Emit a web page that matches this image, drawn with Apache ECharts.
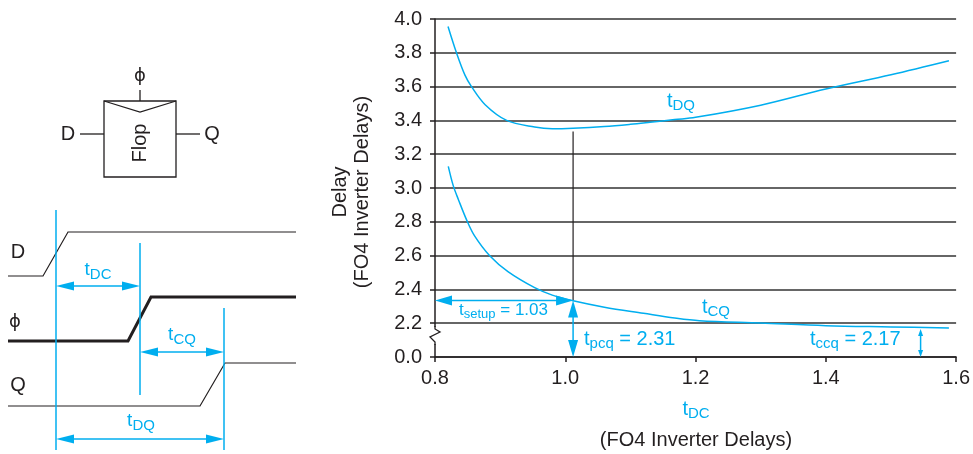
<!DOCTYPE html>
<html><head><meta charset="utf-8">
<script src="https://cdn.jsdelivr.net/npm/echarts@6/dist/echarts.min.js"></script>
<style>html,body{margin:0;padding:0;background:#fff}#c{width:973px;height:454px}</style>
</head><body><div id="c"></div>
<script>
// ---------- data ----------
const xMin = 0.8, xMax = 1.6, xStep = 0.2;
const yMin = 2.0, yMax = 4.0, yStep = 0.2;   // bottom of broken axis is labelled 0.0
const yBreakLabel = '0.0';
const dqX = [0.820, 0.833, 0.846, 0.856, 0.877, 0.910, 0.953, 0.980, 1.012, 1.060, 1.100, 1.130, 1.168, 1.200, 1.300, 1.400, 1.500, 1.589];
const dqY = [3.956, 3.800, 3.668, 3.600, 3.493, 3.400, 3.361, 3.351, 3.354, 3.364, 3.377, 3.389, 3.405, 3.418, 3.490, 3.586, 3.670, 3.753];
const cqX = [0.8204, 0.828, 0.836, 0.849, 0.861, 0.884, 0.912, 0.953, 0.980, 1.012, 1.060, 1.120, 1.168, 1.206, 1.300, 1.400, 1.500, 1.589];
const cqY = [3.128, 3.014, 2.931, 2.807, 2.715, 2.599, 2.505, 2.410, 2.366, 2.333, 2.295, 2.259, 2.231, 2.215, 2.201, 2.185, 2.178, 2.172];
const setupX = 1.012, setupY = 2.334, dqLineTop = 3.335;
const ccqX = 1.5455, ccqY = 2.165;
const tSetupText = '1.03', tPcqText = '2.31', tCcqText = '2.17';
const arrowSegs = [
  [xMin, setupY, setupX, setupY],
  [setupX, setupY, setupX, yMin],
  [ccqX, ccqY, ccqX, yMin]
];

// ---------- style ----------
const BLUE = '#00AEEF', INK = '#231F20';
const FONT = '"Liberation Sans", Arial, Helvetica, sans-serif';
const PHI_FONT = '"DejaVu Sans", "Liberation Sans", sans-serif';
const arrowHeads = [[17, 10], [17, 10], [7, 5]];

function subText(main, sub, rest, ms, ss, color, pad) {
  return {
    text: '{m|' + main + '}{s|' + sub + '}' + (rest ? '{m|' + rest + '}' : ''),
    rich: {
      m: { fontSize: ms, fontFamily: FONT, fill: color, color: color },
      s: { fontSize: ss, fontFamily: FONT, fill: color, color: color, padding: [pad, 0, 0, 0] }
    }
  };
}
function txt(x, y, t, size, color, extra, fam) {
  return Object.assign({ type: 'text', x: x, y: y, z: 10,
    style: { text: t, font: size + 'px ' + (fam || FONT), fill: color, textAlign: 'center', textVerticalAlign: 'middle', verticalAlign: 'middle' } }, extra || {});
}
function rtxt(x, y, cfg, align) {
  return { type: 'text', x: x, y: y, z: 10,
    style: Object.assign({ textAlign: align || 'center', textVerticalAlign: 'middle', verticalAlign: 'middle' }, cfg) };
}
function ln(x1, y1, x2, y2, c, w) {
  return { type: 'line', z: 5, shape: { x1: x1, y1: y1, x2: x2, y2: y2 }, style: { stroke: c, lineWidth: w } };
}
function pl(points, c, w) {
  return { type: 'polyline', z: 5, shape: { points: points }, style: { stroke: c, lineWidth: w, fill: null } };
}
function head(tx, ty, dir, len, wid, c) {
  let pts;
  if (dir === 'l') pts = [[tx, ty], [tx + len, ty - wid / 2], [tx + len, ty + wid / 2]];
  if (dir === 'r') pts = [[tx, ty], [tx - len, ty - wid / 2], [tx - len, ty + wid / 2]];
  return { type: 'polygon', z: 6, shape: { points: pts }, style: { fill: c } };
}
function hArrow(x1, x2, y, c) {
  return [ln(x1 + 10, y, x2 - 10, y, c, 1.5), head(x1, y, 'l', 18, 9, c), head(x2, y, 'r', 18, 9, c)];
}

// ---------- left schematic (decoration) ----------
const deco = [];
deco.push({ type: 'rect', z: 5, shape: { x: 104, y: 101, width: 72, height: 76 }, style: { stroke: INK, fill: '#fff', lineWidth: 1.3 } });
deco.push(pl([[104, 101], [140, 112], [176, 101]], INK, 1.3));
deco.push(ln(140, 90, 140, 101, INK, 1.3));
deco.push(ln(80, 134, 104, 134, INK, 1.3));
deco.push(ln(176, 134, 200, 134, INK, 1.3));
deco.push(txt(140, 76, 'ϕ', 18, INK, null, PHI_FONT));
deco.push(txt(68, 134, 'D', 20, INK));
deco.push(txt(212, 134, 'Q', 20, INK));
deco.push(txt(0, 0, 'Flop', 20, INK, { x: 140, y: 143, rotation: Math.PI / 2 }));
// timing diagram
deco.push(pl([[8, 276], [43, 276], [68, 232], [296, 232]], INK, 1.2));
deco.push(pl([[8, 341], [128, 341], [151, 297], [296, 297]], INK, 3));
deco.push(pl([[8, 406], [200, 406], [225, 363], [296, 363]], INK, 1.2));
deco.push(txt(18, 252, 'D', 20, INK));
deco.push(txt(15, 322, 'ϕ', 18, INK, null, PHI_FONT));
deco.push(txt(18, 385, 'Q', 20, INK));
deco.push(ln(56, 210, 56, 450, BLUE, 1.5));
deco.push(ln(140, 243, 140, 395, BLUE, 1.5));
deco.push(ln(224, 308, 224, 450, BLUE, 1.5));
hArrow(56, 140, 286, BLUE).forEach(e => deco.push(e));
hArrow(140, 224, 352, BLUE).forEach(e => deco.push(e));
hArrow(56, 224, 439, BLUE).forEach(e => deco.push(e));
deco.push(rtxt(98, 270, subText('t', 'DC', '', 19, 15, BLUE, 9)));
deco.push(rtxt(182, 335, subText('t', 'CQ', '', 19, 15, BLUE, 9)));
deco.push(rtxt(141, 421, subText('t', 'DQ', '', 19, 15, BLUE, 9)));

// ---------- chart annotations ----------
deco.push(rtxt(681, 101, subText('t', 'DQ', '', 20, 15, BLUE, 10)));
deco.push(rtxt(716, 307, subText('t', 'CQ', '', 20, 15, BLUE, 10)));
deco.push(rtxt(459, 310, subText('t', 'setup', ' = ' + tSetupText, 17, 13, BLUE, 8), 'left'));
deco.push(rtxt(584, 339, subText('t', 'pcq', ' = ' + tPcqText, 20, 15, BLUE, 10), 'left'));
deco.push(rtxt(810, 339, subText('t', 'ccq', ' = ' + tCcqText, 20, 15, BLUE, 10), 'left'));
// axis names
deco.push(txt(0, 0, 'Delay', 20, INK, { x: 340, y: 192, rotation: Math.PI / 2 }));
deco.push(txt(0, 0, '(FO4 Inverter Delays)', 20, INK, { x: 362, y: 192, rotation: Math.PI / 2 }));
deco.push(rtxt(696, 409, subText('t', 'DC', '', 20, 15, BLUE, 10)));
deco.push(txt(696, 440, '(FO4 Inverter Delays)', 20, INK));
// axis break
deco.push({ type: 'rect', z: 20, shape: { x: 432, y: 327, width: 6, height: 17 }, style: { fill: '#fff' } });
deco.push(Object.assign(pl([[435, 326], [435, 329], [440, 332], [430, 337], [435, 342], [435, 345]], INK, 1.3), { z: 21 }));

const chart = echarts.init(document.getElementById('c'), null, { renderer: 'canvas' });
chart.setOption({
  animation: false,
  backgroundColor: '#fff',
  grid: { left: 435, right: 16, top: 19, bottom: 97 },
  xAxis: {
    type: 'value', min: xMin, max: xMax, interval: xStep,
    axisLine: { lineStyle: { color: INK, width: 1.5 } },
    axisTick: { show: true, length: 5, lineStyle: { color: INK, width: 1.5 } },
    axisLabel: { color: INK, fontSize: 20, fontFamily: FONT, margin: 11, formatter: v => v.toFixed(1) },
    splitLine: { show: false }
  },
  yAxis: {
    type: 'value', min: yMin, max: yMax, interval: yStep,
    axisLine: { show: true, lineStyle: { color: INK, width: 1.5 } },
    axisTick: { show: true, length: 5, lineStyle: { color: INK, width: 1.5 } },
    axisLabel: { color: INK, fontSize: 20, fontFamily: FONT, margin: 13,
      formatter: v => Math.abs(v - yMin) < 1e-6 ? yBreakLabel : v.toFixed(1) },
    splitLine: { show: true, lineStyle: { color: '#333', width: 1.5 } }
  },
  series: [
    { type: 'line', data: dqX.map((x, i) => [x, dqY[i]]), showSymbol: false, smooth: 0.35,
      lineStyle: { color: BLUE, width: 1.5 }, z: 3 },
    { type: 'line', data: cqX.map((x, i) => [x, cqY[i]]), showSymbol: false, smooth: 0.35,
      lineStyle: { color: BLUE, width: 1.5 }, z: 3 },
    { type: 'line', data: [[setupX, setupY], [setupX, dqLineTop]], showSymbol: false,
      lineStyle: { color: INK, width: 1.2 }, z: 2 },
    { type: 'custom', coordinateSystem: 'cartesian2d', clip: false, z: 4,
      data: arrowSegs, encode: { x: [0, 2], y: [1, 3] },
      renderItem: function (params, api) {
        const p1 = api.coord([api.value(0), api.value(1)]);
        const p2 = api.coord([api.value(2), api.value(3)]);
        const hl = arrowHeads[params.dataIndex][0], hw = arrowHeads[params.dataIndex][1];
        const dx = p2[0] - p1[0], dy = p2[1] - p1[1], L = Math.sqrt(dx * dx + dy * dy);
        const ux = dx / L, uy = dy / L, nx = -uy, ny = ux;
        const mk = (t, s) => [[t[0], t[1]],
          [t[0] + s * ux * hl + nx * hw / 2, t[1] + s * uy * hl + ny * hw / 2],
          [t[0] + s * ux * hl - nx * hw / 2, t[1] + s * uy * hl - ny * hw / 2]];
        return { type: 'group', children: [
          { type: 'line', shape: { x1: p1[0] + ux * hl * 0.6, y1: p1[1] + uy * hl * 0.6, x2: p2[0] - ux * hl * 0.6, y2: p2[1] - uy * hl * 0.6 },
            style: { stroke: BLUE, lineWidth: 1.5 } },
          { type: 'polygon', shape: { points: mk(p1, 1) }, style: { fill: BLUE } },
          { type: 'polygon', shape: { points: mk(p2, -1) }, style: { fill: BLUE } }
        ] };
      }
    }
  ],
  graphic: { elements: deco }
});
</script></body></html>
